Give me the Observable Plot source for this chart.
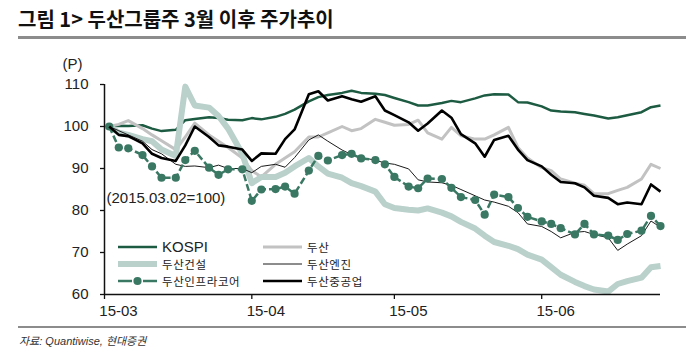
<!DOCTYPE html>
<html><head><meta charset="utf-8">
<script src="https://cdn.jsdelivr.net/npm/d3@7"></script>
<script src="https://cdn.jsdelivr.net/npm/@observablehq/plot@0.6"></script>
<style>
body{margin:0;background:#fff;}
#wrap{position:relative;width:686px;height:353px;overflow:hidden;font-family:Arial,"Liberation Sans","Noto Sans CJK KR",sans-serif;color:#222;}
#title{position:absolute;left:18px;top:7px;font-family:"Noto Sans CJK KR",sans-serif;font-weight:700;font-size:20px;line-height:24px;height:24px;color:#111;white-space:nowrap;}
#rule1{position:absolute;left:18px;right:0;top:36px;height:3px;background:#8c8c8c;}
#rule2{position:absolute;left:18px;right:0;top:326px;height:1.5px;background:#8c8c8c;}
#src{position:absolute;left:19px;top:334px;font-size:11px;line-height:14px;font-style:italic;color:#333;white-space:nowrap;}
#chart{position:absolute;left:0;top:0;}
.leg{position:absolute;height:14px;display:flex;align-items:center;white-space:nowrap;}
.leg svg{display:block;margin-right:5px;}
.leg span{display:block;height:14px;font-size:15px;line-height:14px;color:#222;overflow:visible;}
.leg span.kr{font-family:"Noto Sans CJK KR",sans-serif;font-size:11.5px;letter-spacing:0.6px;}
</style>
</head><body>
<div id="wrap">
  <div id="title">그림 1&gt; 두산그룹주 3월 이후 주가추이</div>
  <div id="rule1"></div>
  <div id="chart"></div>
  <div id="rule2"></div>
  <div id="src">자료: Quantiwise, 현대증권</div>
</div>
<script>
const dates = ["2015-03-02","2015-03-04","2015-03-06","2015-03-09","2015-03-11","2015-03-13","2015-03-16","2015-03-18","2015-03-20","2015-03-23","2015-03-25","2015-03-27","2015-03-30","2015-04-01","2015-04-03","2015-04-06","2015-04-08","2015-04-10","2015-04-13","2015-04-15","2015-04-17","2015-04-20","2015-04-22","2015-04-24","2015-04-27","2015-04-29","2015-05-01","2015-05-04","2015-05-06","2015-05-08","2015-05-11","2015-05-13","2015-05-15","2015-05-18","2015-05-20","2015-05-22","2015-05-25","2015-05-27","2015-05-29","2015-06-01","2015-06-03","2015-06-05","2015-06-08","2015-06-10","2015-06-12","2015-06-15","2015-06-17","2015-06-19","2015-06-22","2015-06-24","2015-06-26"];

const kospi = [100,100.2,100.1,100.3,99.5,98.9,99.2,101.5,101.8,102.2,102.0,101.6,101.5,102.0,101.7,102.3,103.0,104.0,106.0,107.0,107.5,108.0,108.5,108.0,107.8,107.5,106.8,105.8,105.0,105.0,105.6,106.1,105.8,106.7,107.4,107.7,107.6,105.8,105.7,104.8,103.8,103.6,103.4,103.0,102.6,101.9,102.2,102.7,103.4,104.6,105.0];
const doosan = [100,100.5,101.4,99.5,98.0,96.6,94.5,97.5,100.8,98.0,96.5,95.0,92.5,89.5,88.0,91.0,92.5,94.0,97.5,97.5,98.5,100.0,99.0,99.5,101.7,101.0,100.3,100.5,101.5,98.5,97.0,99.8,97.8,97.0,97.0,98.0,99.8,95.0,92.5,90.2,89.5,87.5,86.5,86.0,84.0,84.0,84.8,85.5,87.5,91.0,90.0];
const doosanEnc = [100,98.5,98.0,97.0,96.5,94.5,93.0,109.5,105.0,104.5,102.5,99.5,93.5,86.5,88.0,88.0,89.0,90.5,92.5,90.5,88.8,87.8,86.5,85.8,84.5,81.5,80.6,80.2,80.0,80.5,79.5,78.6,77.3,75.7,74.0,72.5,71.6,70.8,69.5,68.3,66.5,64.7,63.0,62.0,61.2,60.7,62.5,63.2,64.0,66.5,66.8];
const doosanEngine = [100,99.0,98.0,96.5,94.5,93.5,91.0,90.5,90.6,90.2,90.8,90.0,90.0,89.0,90.5,91.0,90.3,92.6,96.8,98.0,96.5,94.4,93.3,92.6,92.0,91.3,91.0,89.9,87.3,86.8,86.6,86.0,85.0,83.5,82.5,82.0,81.0,79.5,76.8,76.2,75.0,73.5,74.8,75.0,74.3,73.5,70.5,72.0,74.0,77.5,76.0];
const doosanInfracore = [100,95.0,94.8,93.2,90.5,87.8,87.8,92.0,94.2,90.2,88.5,89.8,89.8,82.3,85.0,85.1,85.7,84.0,89.5,93.0,91.9,93.2,93.5,92.4,92.0,91.0,88.0,85.7,85.3,87.6,87.5,85.4,83.2,82.5,79.0,83.8,83.2,80.6,78.5,77.4,76.8,75.8,74.3,76.8,74.3,74.0,73.0,74.4,75.2,78.7,76.3];
const doosanHeavy = [100,98.0,97.7,96.0,93.5,92.5,91.8,95.5,100.0,97.5,95.5,95.2,94.5,91.8,93.6,93.5,97.0,99.3,107.7,108.4,106.2,107.2,106.5,105.9,107.2,103.8,102.7,101.0,99.0,100.7,103.8,102.1,98.2,96.0,92.8,96.8,97.8,94.5,92.0,90.5,88.5,86.8,86.5,85.5,83.5,83.0,81.5,81.9,81.5,86.2,84.5];

const seriesNames = ["KOSPI","두산","두산건설","두산엔진","두산인프라코어","두산중공업"];
const seriesValues = [kospi, doosan, doosanEnc, doosanEngine, doosanInfracore, doosanHeavy];

const yTicks = [60,70,80,90,100,110];
const xTickDates = ["2015-03-01","2015-04-01","2015-05-01","2015-06-01"];
const xTickLabels = ["15-03","15-04","15-05","15-06"];
const xDomain = ["2015-03-01","2015-06-26"];
const yUnit = "(P)";
const baseNote = "(2015.03.02=100)";

// styles (kept apart from data)
const styles = {
  "KOSPI":        {stroke:"#1e5b43", width:2.5},
  "두산":          {stroke:"#c2c2c2", width:3},
  "두산건설":       {stroke:"#b9d0cb", width:6},
  "두산엔진":       {stroke:"#1a1a1a", width:1},
  "두산인프라코어":  {stroke:"#3a7864", width:2.5, dash:"7,3", dot:4.1},
  "두산중공업":     {stroke:"#000000", width:2.6}
};

const rows = seriesNames.map((name, i) => dates.map((d, j) => ({name, date: new Date(d), value: seriesValues[i][j]})));

const lineMarks = [];
seriesNames.forEach((name, i) => {
  const s = styles[name];
  lineMarks.push(Plot.line(rows[i], {x:"date", y:"value", stroke:s.stroke, strokeWidth:s.width, strokeDasharray:s.dash, strokeLinejoin:"round", strokeLinecap:"butt"}));
  if (s.dot) lineMarks.push(Plot.dot(rows[i], {x:"date", y:"value", r:s.dot, fill:s.stroke, stroke:"none"}));
});

const tickDates = xTickDates.map(d => new Date(d));
const fmtX = d => xTickLabels[tickDates.findIndex(t => +t === +d)];

const chart = Plot.plot({
  width: 686, height: 353,
  marginLeft: 104, marginRight: 26, marginTop: 84, marginBottom: 59,
  x: {type: "utc", domain: xDomain.map(d => new Date(d))},
  y: {domain: [60, 110]},
  style: {fontFamily: "Arial, 'Liberation Sans', sans-serif", fontSize: "15px", color: "#222", background: "transparent", overflow: "visible"},
  marks: [
    Plot.axisY({ticks: yTicks, tickSize: 4, tickPadding: 12, label: null, stroke: "#111", strokeWidth: 1.3}),
    Plot.axisX({ticks: tickDates, tickSize: 5, tickFormat: () => "", label: null, stroke: "#111", strokeWidth: 1.3}),
    Plot.axisX({ticks: tickDates, tickSize: 0, tickPadding: 11, tickFormat: fmtX, label: null, dx: 14}),
    ...lineMarks,
    Plot.ruleX([new Date(xDomain[0])], {stroke: "#111", strokeWidth: 1.5}),
    Plot.ruleY([60], {stroke: "#111", strokeWidth: 1.5}),
    Plot.text([yUnit], {text: d => d, frameAnchor: "top-left", dx: -32, dy: -26, textAnchor: "middle", fontSize: 15}),
    Plot.text([baseNote], {text: d => d, frameAnchor: "top-left", dx: 2, dy: 108, textAnchor: "start", fontSize: 15})
  ]
});
document.getElementById("chart").appendChild(chart);

// legend (2 columns, row-major)
const wrap = document.getElementById("wrap");
const colLeft = [118, 263];
const rowTop = [240, 257, 274];
seriesNames.forEach((name, i) => {
  const s = styles[name];
  const div = document.createElement("div");
  div.className = "leg";
  div.style.left = colLeft[i % 2] + "px";
  div.style.top = rowTop[Math.floor(i / 2)] + "px";
  const w = 39;
  let svg = `<svg width="${w}" height="12"><line x1="0" x2="${w}" y1="6" y2="6" stroke="${s.stroke}" stroke-width="${Math.min(s.width, 6)}"/>`;
  if (s.dot) svg = `<svg width="${w}" height="12"><line x1="0" x2="14" y1="6" y2="6" stroke="${s.stroke}" stroke-width="${s.width}"/><line x1="25" x2="${w}" y1="6" y2="6" stroke="${s.stroke}" stroke-width="${s.width}"/><circle cx="${w/2}" cy="6" r="${s.dot}" fill="${s.stroke}"/>`;
  svg += `</svg>`;
  const isKr = /[가-힣]/.test(name);
  div.innerHTML = svg + `<span class="${isKr ? "kr" : ""}">${name}</span>`;
  wrap.appendChild(div);
});
</script>
</body></html>
